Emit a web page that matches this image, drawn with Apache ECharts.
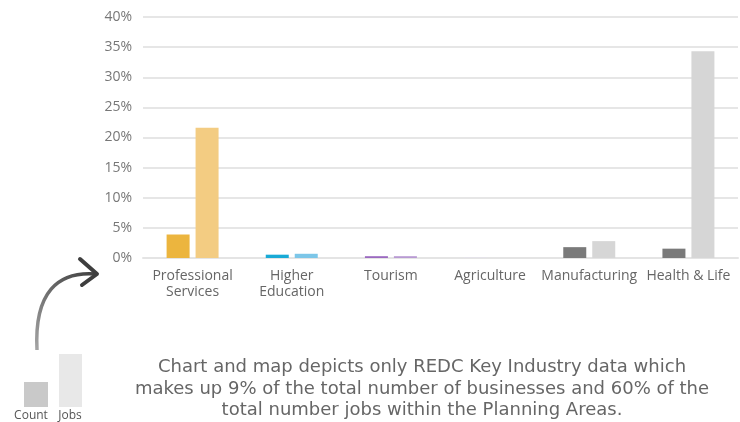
<!DOCTYPE html>
<html>
<head>
<meta charset="utf-8">
<script src="https://cdn.jsdelivr.net/npm/echarts@6/dist/echarts.min.js"></script>
<style>
	html, body { margin: 0; padding: 0; background: #fff; }
	#chart { width: 740px; height: 422px; }
</style>
</head>
<body>
<div id="chart"></div>
<script>
const categories = [
	'Professional\nServices',
	'Higher\nEducation',
	'Tourism',
	'Agriculture',
	'Manufacturing',
	'Health & Life'
]
const countValues = [3.9, 0.55, 0.3, 0.1, 1.8, 1.55]
const jobsValues = [21.6, 0.7, 0.3, 0, 2.8, 34.3]
const yTicks = { min: 0, max: 40, interval: 5 }

const countColors = ['#ecb53e', '#19aad6', '#9b69c0', '#e4e2ec', '#7a7a7a', '#7a7a7a']
const jobsColors = ['#f3cc82', '#7cc6e8', '#b89ad3', '#eeeeee', '#d6d6d6', '#d6d6d6']

const node = document.getElementById('chart')
const myChart = echarts.init(node)

const textColor = '#666'

const option = {
	animation: false,
	grid: { left: 143, right: 2, top: 17, bottom: 164 },
	xAxis: {
		type: 'category',
		data: categories,
		axisLine: { lineStyle: { color: '#e4e4e4', width: 2 } },
		axisTick: { show: false },
		axisLabel: {
			color: textColor,
			fontFamily: 'Open Sans',
			fontSize: 14,
			lineHeight: 16,
			margin: 10,
			interval: 0
		}
	},
	yAxis: {
		type: 'value',
		min: yTicks.min,
		max: yTicks.max,
		interval: yTicks.interval,
		axisLine: { show: false },
		axisTick: { show: false },
		splitLine: { lineStyle: { color: '#e6e6e6', width: 2 } },
		axisLabel: {
			formatter: '{value}%',
			color: '#777',
			fontFamily: 'Open Sans',
			fontSize: 14,
			margin: 11
		}
	},
	series: [
		{
			name: 'Count',
			type: 'bar',
			barWidth: 23,
			barGap: '26%',
			data: countValues.map((v, i) => ({ value: v, itemStyle: { color: countColors[i] } }))
		},
		{
			name: 'Jobs',
			type: 'bar',
			barWidth: 23,
			data: jobsValues.map((v, i) => ({ value: v, itemStyle: { color: jobsColors[i] } }))
		}
	],
	graphic: [
		// curved arrow pointing at the chart
		{
			type: 'bezierCurve',
			shape: { x1: 37, y1: 350, cpx1: 34, cpy1: 292, cpx2: 58, cpy2: 271, x2: 96, y2: 274 },
			style: {
				fill: 'none',
				lineWidth: 3.5,
				stroke: new echarts.graphic.LinearGradient(0, 1, 1, 0, [
					{ offset: 0, color: '#a8a8a8' },
					{ offset: 1, color: '#3e3e3e' }
				])
			}
		},
		{
			type: 'polyline',
			shape: { points: [[80, 259], [97, 274], [82, 285]] },
			style: { fill: 'none', stroke: '#3e3e3e', lineWidth: 4, lineCap: 'round', lineJoin: 'round' }
		},
		// little legend
		{ type: 'rect', shape: { x: 24, y: 382, width: 24, height: 25 }, style: { fill: '#c9c9c9' } },
		{ type: 'rect', shape: { x: 59, y: 354, width: 23, height: 53 }, style: { fill: '#e8e8e8' } },
		{
			type: 'text', x: 31, y: 410,
			style: { text: 'Count', fill: '#555', font: '12px "Open Sans"', align: 'center' }
		},
		{
			type: 'text', x: 70, y: 410,
			style: { text: 'Jobs', fill: '#555', font: '12px "Open Sans"', align: 'center' }
		},
		{
			type: 'text',
			x: 422,
			y: 357,
			style: {
				text: 'Chart and map depicts only REDC Key Industry data which\nmakes up 9% of the total number of businesses and 60% of the\ntotal number jobs within the Planning Areas.',
				align: 'center',
				verticalAlign: 'top',
				fill: '#666',
				font: '18px "DejaVu Sans"',
				lineHeight: 21.5
			}
		}
	]
}

myChart.setOption(option)

window.addEventListener('resize', () => {
	myChart.resize()
})
</script>
</body>
</html>
